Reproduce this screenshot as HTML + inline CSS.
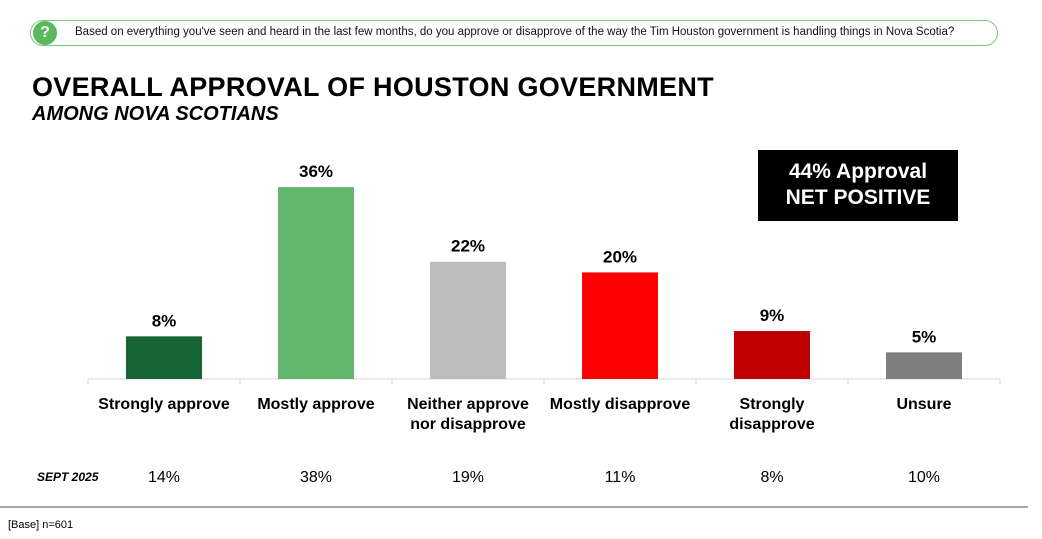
<!DOCTYPE html>
<html><head><meta charset="utf-8"><style>
body{margin:0;width:1042px;height:539px;background:#fff;font-family:"Liberation Sans",sans-serif;position:relative;overflow:hidden}
.q{position:absolute;left:30px;top:20px;width:968px;height:26px;border:1.5px solid #7ccb7c;border-radius:13px;box-sizing:border-box}
.qi{position:absolute;left:33px;top:21px;width:24px;height:24px;border-radius:50%;background:#5cb85c;color:#fff;font-weight:bold;font-size:16px;text-align:center;line-height:24px}
.qt{position:absolute;left:75px;top:26px;font-size:11.5px;color:#111}
.t1{position:absolute;left:32px;top:72px;font-size:27px;font-weight:bold;letter-spacing:0.3px}
.t2{position:absolute;left:32px;top:103px;font-size:20px;font-weight:bold;font-style:italic}
.box{position:absolute;left:758px;top:150px;width:200px;height:71px;background:#000;color:#fff;font-weight:bold;font-size:21px;text-align:center;line-height:26px;padding-top:9px;box-sizing:border-box}
</style></head><body>
<div class="q"></div>
<div class="qi">?</div>
<div class="qt">Based on everything you've seen and heard in the last few months, do you approve or disapprove of the way the Tim Houston government is handling things in Nova Scotia?</div>
<div class="t1">OVERALL APPROVAL OF HOUSTON GOVERNMENT</div>
<div class="t2">AMONG NOVA SCOTIANS</div>
<div class="box">44% Approval<br>NET POSITIVE</div>
<svg id="c" width="1042" height="539" style="position:absolute;left:0;top:0"></svg>
<script>
const categories=[["Strongly approve"],["Mostly approve"],["Neither approve","nor disapprove"],["Mostly disapprove"],["Strongly","disapprove"],["Unsure"]];
const values=[8,36,22,20,9,5];
const priorValues=[14,38,19,11,8,10];
const colors=["#176537","#62b66d","#bdbdbd","#ff0000","#c00000","#7f7f7f"];
const svg=document.getElementById('c');const NS="http://www.w3.org/2000/svg";
const x0=88,cw=152,base=379,k=5.33;
const xc=i=>x0+cw*i+cw/2;const y=v=>base-v*k;
function mk(t,a,txt){const e=document.createElementNS(NS,t);for(const n in a)e.setAttribute(n,a[n]);if(txt!=null)e.textContent=txt;svg.appendChild(e);return e;}
let ax=mk('line',{x1:x0,x2:x0+cw*6,y1:base,y2:base,stroke:'#d9d9d9','stroke-width':1});

for(let i=0;i<=6;i++){let tk=mk('line',{x1:x0+cw*i,x2:x0+cw*i,y1:base,y2:base+6,stroke:'#d9d9d9'});
}
values.forEach((v,i)=>{
let r=mk('rect',{x:xc(i)-38,y:y(v),width:76,height:v*k,fill:colors[i]});

let l=mk('text',{x:xc(i),y:y(v)-10,'text-anchor':'middle','font-size':17,'font-weight':'bold'},v+'%');

categories[i].forEach((s,j)=>{let c=mk('text',{x:xc(i),y:409+j*20,'text-anchor':'middle','font-size':16,'font-weight':'bold'},s);
});
let p=mk('text',{x:xc(i),y:482,'text-anchor':'middle','font-size':16},priorValues[i]+'%');

});
let s=mk('text',{x:37,y:481,'font-size':12,'font-weight':'bold','font-style':'italic'},'SEPT 2025');

let fl=mk('line',{x1:0,x2:1028,y1:507,y2:507,stroke:'#8a8a8a','stroke-width':1.5});

let b=mk('text',{x:8,y:528,'font-size':11},'[Base] n=601');

</script>
</body></html>
